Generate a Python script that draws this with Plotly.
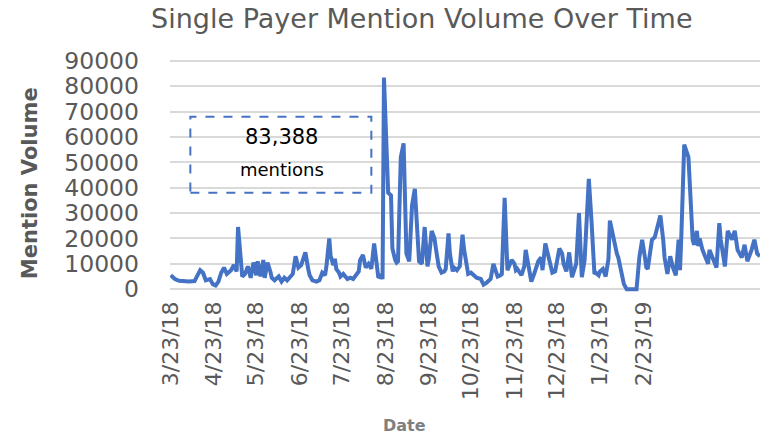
import pandas as pd
import plotly.graph_objects as go

start_date = "2018-03-23"
day_offsets = [
    0, 3, 6, 10, 13, 17, 19, 21, 23, 25, 28, 30, 32, 34, 36, 38, 40, 43, 45, 47,
    48, 50, 51, 53, 55, 57, 59, 61, 62, 64, 66, 67, 69, 71, 72, 74, 77, 79, 81, 83,
    85, 87, 89, 91, 93, 95, 96, 98, 99, 101, 104, 106, 108, 110, 111, 113, 114, 116, 117, 118,
    120, 121, 123, 126, 128, 130, 132, 134, 135, 137, 139, 141, 143, 145, 147, 148, 150, 151, 152, 155,
    157, 158, 160, 161, 162, 164, 166, 168, 170, 172, 174, 177, 179, 181, 183, 184, 186, 188, 189, 191,
    193, 195, 196, 198, 199, 201, 202, 204, 206, 208, 209, 211, 212, 214, 216, 218, 221, 223, 225, 227,
    228, 230, 233, 235, 236, 238, 239, 240, 243, 245, 246, 247, 250, 252, 253, 255, 257, 259, 260, 262,
    264, 265, 267, 269, 271, 272, 274, 277, 279, 280, 282, 283, 284, 286, 289, 291, 293, 295, 298, 300,
    302, 303, 305, 306, 308, 310, 312, 313, 316, 318, 319, 321, 322, 323, 325, 327, 329, 332, 334, 336,
    338, 339, 340, 342, 343, 345, 347, 349, 351, 352, 354, 356, 358, 360, 362, 363, 364, 366, 369, 372,
    373, 375, 376, 377, 379, 383, 384, 386, 389, 391, 392, 395, 397, 400, 402, 404, 407, 409, 411, 414,
    416, 418, 420,
]
mentions = [
    5500, 4000, 3300, 3000, 3000, 3200, 5000, 7500, 6500, 3500, 4000, 2000, 1500, 3000, 6500, 8500, 6000, 7500, 9500, 7000,
    24500, 12000, 5000, 6000, 9000, 4500, 10500, 5500, 11000, 5000, 11500, 4500, 10500, 7000, 4500, 3500, 5000, 3000, 4500, 3500,
    4500, 6000, 13000, 8500, 9500, 13500, 14500, 8000, 5500, 3500, 3000, 3500, 6500, 5500, 9000, 20000, 13000, 9500, 12000, 8000,
    6500, 5000, 6000, 4000, 4500, 4000, 5500, 7000, 11500, 13500, 8500, 10000, 8000, 18000, 9000, 4500, 5500, 4000, 83388, 38000,
    37000, 16000, 11500, 10500, 11000, 52000, 57500, 14000, 11000, 33000, 39500, 11000, 10000, 24500, 9000, 12000, 23000, 20000, 16000, 9000,
    6500, 7000, 8000, 22000, 14000, 7000, 8500, 7500, 9000, 21500, 16000, 8000, 6000, 6500, 5500, 4500, 4000, 1800, 2500, 3500,
    4000, 10000, 5000, 5500, 6000, 36000, 15000, 7500, 11500, 10000, 7500, 8000, 5500, 9000, 15500, 8500, 3000, 6000, 8000, 11000,
    12500, 7500, 18000, 13000, 9000, 6500, 7000, 16000, 14000, 10000, 7000, 12500, 14500, 4700, 10000, 30000, 4700, 11500, 43500, 26000,
    6000, 6500, 5500, 7000, 8000, 5000, 12000, 27000, 18000, 14000, 12500, 7000, 5000, 2000, 0, 0, 0, 0, 12500, 19500,
    12500, 8500, 8000, 16500, 19500, 20500, 24500, 29000, 19500, 12500, 6000, 13000, 8500, 5500, 19500, 7500, 22000, 57000, 52000, 19500,
    17500, 23000, 17000, 20000, 15500, 10000, 15500, 12500, 8500, 26000, 19500, 9000, 23000, 19500, 23000, 15500, 12500, 17500, 11000, 15500,
    19500, 14000, 13000,
]
tick_dates = ["2018-03-23", "2018-04-23", "2018-05-23", "2018-06-23", "2018-07-23", "2018-08-23",
              "2018-09-23", "2018-10-23", "2018-11-23", "2018-12-23", "2019-01-23", "2019-02-23"]
tick_labels = ["3/23/18", "4/23/18", "5/23/18", "6/23/18", "7/23/18", "8/23/18",
               "9/23/18", "10/23/18", "11/23/18", "12/23/18", "1/23/19", "2/23/19"]
peak_label = "83,388"
peak_unit = "mentions"

base = pd.Timestamp(start_date)
dates = [base + pd.Timedelta(days=d) for d in day_offsets]

BLUE = "#4472C4"
GREY = "#595959"
FONT = "DejaVu Sans"

fig = go.Figure()
fig.add_trace(go.Scatter(x=dates, y=mentions, mode="lines",
                         line=dict(color=BLUE, width=4), hoverinfo="x+y"))

fig.update_layout(
    width=760, height=434,
    margin=dict(l=170, r=0, t=57, b=141, autoexpand=False),
    paper_bgcolor="white", plot_bgcolor="white",
    showlegend=False,
    font=dict(family=FONT, color=GREY),
    title=dict(text="Single Payer Mention Volume Over Time", x=0.555, xanchor="center",
               y=0.958, yanchor="middle", yref="container",
               font=dict(family=FONT, size=27, color=GREY)),
)
fig.update_xaxes(
    type="date", automargin=False,
    range=[base - pd.Timedelta(hours=12), base + pd.Timedelta(days=420)],
    tickvals=[pd.Timestamp(t) for t in tick_dates], ticktext=tick_labels,
    tickangle=-90, tickfont=dict(family=FONT, size=22, color=GREY),
    showgrid=False, zeroline=False, showline=False, ticks="",
    ticklabelstandoff=3,
)
fig.update_yaxes(
    automargin=False,
    range=[-1500, 91500], tick0=0, dtick=10000, tickformat="d",
    tickfont=dict(family=FONT, size=23.5, color=GREY),
    showgrid=True, gridcolor="#d9d9d9", gridwidth=1.5,
    zeroline=False, showline=False, ticks="",
    ticklabelstandoff=30,
)

fig.add_shape(type="rect", xref="x", yref="y",
              x0=base + pd.Timedelta(days=14), x1=base + pd.Timedelta(days=143),
              y0=38000, y1=68000,
              line=dict(color=BLUE, width=2, dash="dash"), fillcolor="rgba(0,0,0,0)")
fig.add_annotation(x=base + pd.Timedelta(days=79), y=60000, xref="x", yref="y",
                   text=peak_label, showarrow=False,
                   font=dict(family=FONT, size=21, color="black"))
fig.add_annotation(x=base + pd.Timedelta(days=79), y=47000, xref="x", yref="y",
                   text=peak_unit, showarrow=False,
                   font=dict(family=FONT, size=18, color="black"))

fig.add_annotation(x=-0.237, y=0.466, xref="paper", yref="paper",
                   text="<b>Mention Volume</b>", textangle=-90, showarrow=False,
                   xanchor="center", yanchor="middle",
                   font=dict(family=FONT, size=21, color=GREY))
fig.add_annotation(x=0.397, y=-0.561, xref="paper", yref="paper",
                   text="<b>Date</b>", showarrow=False,
                   xanchor="center", yanchor="middle",
                   font=dict(family=FONT, size=16, color="#7f7f7f"))

fig.write_html("out.html", config={"displayModeBar": False},
               post_script="document.body.style.margin='0px';document.body.style.overflow='hidden';")
